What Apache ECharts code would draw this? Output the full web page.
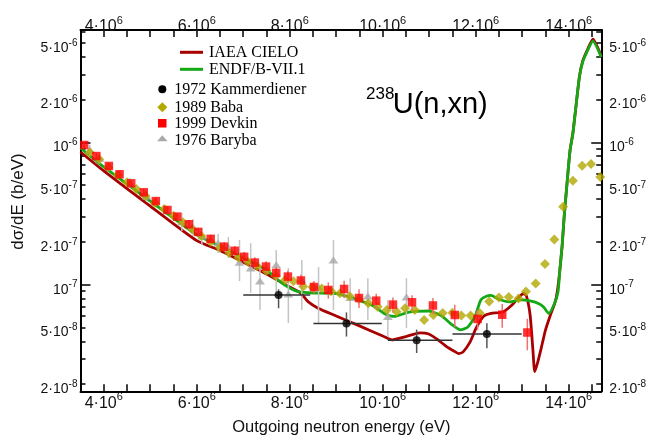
<!DOCTYPE html>
<html><head><meta charset="utf-8">
<script src="https://cdn.jsdelivr.net/npm/echarts@6/dist/echarts.min.js"></script>
<style>html,body{margin:0;padding:0;background:#fff}#c{width:656px;height:436px}</style>
</head><body><div id="c"></div>
<script>
// Energies in MeV (axis labels show them as n·10^6 eV), cross sections in b/eV
const cieloE = [3.5,4.0,5.0,6.0,6.5,7.0,7.5,8.0,8.2,8.31,8.4,8.6,9.0,9.5,10.0,10.2,10.5,10.8,10.99,11.19,11.38,11.53,11.63,11.73,11.88,11.99,12.08,12.18,12.33,12.58,12.78,12.93,13.03,13.09,13.17,13.23,13.27,13.33,13.4,13.5,13.6,13.71,13.76,13.81,13.86,13.9,13.97,14.03,14.09,14.14,14.23,14.3,14.4,14.52,14.7];
const cieloV = [8.56e-7,6.30e-7,3.57e-7,2.04e-7,1.74e-7,1.44e-7,1.19e-7,9.63e-8,8.89e-8,8.19e-8,7.56e-8,6.86e-8,6.03e-8,5.13e-8,4.36e-8,4.09e-8,4.32e-8,4.58e-8,4.50e-8,4.09e-8,3.65e-8,3.42e-8,3.28e-8,3.37e-8,3.96e-8,4.81e-8,5.47e-8,6.03e-8,6.28e-8,6.43e-8,7.20e-8,8.19e-8,8.67e-8,8.33e-8,6.12e-8,3.48e-8,2.45e-8,2.82e-8,3.48e-8,4.80e-8,6.03e-8,7.56e-8,9.18e-8,1.27e-7,1.90e-7,2.94e-7,5.44e-7,8.84e-7,1.16e-6,1.61e-6,2.88e-6,3.73e-6,4.46e-6,5.33e-6,4.05e-6];

const endfE = [3.5,4.0,5.0,6.0,6.5,7.0,7.5,7.79,8.0,8.2,8.5,9.0,9.2,9.5,9.8,10.05,10.25,10.5,10.69,10.99,11.27,11.47,11.67,11.83,11.99,12.11,12.24,12.33,12.48,12.73,12.97,13.17,13.37,13.47,13.57,13.69,13.77,13.81,13.86,13.9,13.97,14.03,14.09,14.14,14.23,14.3,14.4,14.52,14.7];
const endfV = [9.13e-7,6.72e-7,3.87e-7,2.24e-7,1.87e-7,1.54e-7,1.27e-7,1.05e-7,9.48e-8,8.89e-8,8.74e-8,8.67e-8,8.33e-8,7.74e-8,7.08e-8,6.22e-8,5.98e-8,6.33e-8,6.48e-8,6.53e-8,6.03e-8,5.29e-8,4.81e-8,5.04e-8,6.03e-8,7.81e-8,8.33e-8,8.40e-8,7.93e-8,7.56e-8,7.81e-8,7.68e-8,7.32e-8,6.91e-8,6.28e-8,7.32e-8,8.89e-8,1.27e-7,1.90e-7,2.94e-7,5.44e-7,8.84e-7,1.16e-6,1.61e-6,2.88e-6,3.67e-6,4.39e-6,5.16e-6,3.98e-6];

const kammE   = [7.76, 9.22, 10.73, 12.24];
const kammV   = [8.47e-8, 5.34e-8, 4.07e-8, 4.50e-8];
const kammElo = [7.0, 8.51, 10.11, 11.50];
const kammEhi = [8.44, 9.98, 11.50, 12.99];
const kammVlo = [6.83e-8, 4.32e-8, 3.31e-8, 3.57e-8];
const kammVhi = [9.28e-8, 6.38e-8, 4.83e-8, 5.36e-8];

const babaE = [3.7,3.9,4.1,4.3,4.5,4.7,4.9,5.1,5.3,5.5,5.7,5.9,6.1,6.3,6.5,6.7,6.9,7.1,7.3,7.5,7.7,7.9,8.08,8.29,8.49,8.69,8.89,9.08,9.29,9.49,9.69,9.89,10.09,10.3,10.48,10.69,10.89,11.09,11.29,11.5,11.69,11.89,12.09,12.29,12.5,12.71,12.92,13.08,13.29,13.49,13.69,13.88,14.09,14.29,14.48,14.68];
const babaV = [8.5e-7,7.6e-7,6.7e-7,5.9e-7,5.25e-7,4.7e-7,4.2e-7,3.75e-7,3.4e-7,3.05e-7,2.75e-7,2.45e-7,2.2e-7,2.0e-7,1.82e-7,1.67e-7,1.55e-7,1.45e-7,1.35e-7,1.25e-7,1.15e-7,1.08e-7,1.057e-7,9.7e-8,9.6e-8,9.4e-8,9.0e-8,8.7e-8,8.3e-8,7.9e-8,7.4e-8,7.0e-8,6.64e-8,6.45e-8,6.82e-8,6.64e-8,5.65e-8,6.12e-8,6.32e-8,6.36e-8,6.08e-8,6.08e-8,6.29e-8,7.62e-8,8.13e-8,8.19e-8,8.0e-8,8.96e-8,1.02e-7,1.40e-7,2.08e-7,3.53e-7,5.38e-7,6.86e-7,7.05e-7,5.71e-7];

const devkinE = [3.58,3.84,4.11,4.34,4.59,4.86,5.12,5.37,5.58,5.83,6.03,6.30,6.59,6.82,7.02,7.25,7.49,7.71,7.96,8.24,8.52,8.83,9.17,9.49,9.86,10.22,10.63,11.08,11.55,12.04,12.57,13.11];
const devkinV = [9.59e-7,8.02e-7,6.83e-7,5.97e-7,5.16e-7,4.46e-7,3.87e-7,3.35e-7,3.01e-7,2.66e-7,2.35e-7,2.10e-7,1.85e-7,1.73e-7,1.57e-7,1.43e-7,1.34e-7,1.21e-7,1.14e-7,1.07e-7,9.63e-8,9.18e-8,9.33e-8,8.06e-8,7.72e-8,7.24e-8,7.52e-8,7.14e-8,6.12e-8,5.74e-8,6.15e-8,4.61e-8];
const devkinErr = [0.05,0.05,0.05,0.05,0.05,0.06,0.06,0.06,0.06,0.07,0.07,0.07,0.08,0.08,0.08,0.09,0.09,0.10,0.10,0.10,0.10,0.13,0.14,0.15,0.12,0.12,0.12,0.13,0.18,0.16,0.19,0.25];

const barybaE  = [3.70,3.91,4.56,4.92,5.68,5.92,6.11,6.46,6.68,6.92,7.16,7.36,7.71,7.97,8.26,8.62,8.94,9.30,9.68,10.11,10.51];
const barybaV  = [8.84e-7,7.73e-7,5.21e-7,4.20e-7,2.76e-7,2.54e-7,2.20e-7,1.96e-7,1.84e-7,1.44e-7,1.31e-7,1.06e-7,1.38e-7,8.60e-8,1.08e-7,9.63e-8,1.49e-7,8.13e-8,8.33e-8,5.98e-8,8.19e-8];
const barybaLo = [8.03e-7,7.05e-7,4.78e-7,3.81e-7,2.38e-7,2.20e-7,1.90e-7,1.67e-7,1.54e-7,1.06e-7,8.75e-8,6.64e-8,8.89e-8,5.38e-8,6.64e-8,5.38e-8,6.64e-8,5.13e-8,5.65e-8,4.29e-8,4.96e-8];
const barybaHi = [9.59e-7,8.42e-7,5.62e-7,4.63e-7,3.19e-7,2.89e-7,2.50e-7,2.27e-7,2.16e-7,2.06e-7,1.96e-7,1.38e-7,1.75e-7,1.31e-7,1.49e-7,1.33e-7,2.06e-7,1.11e-7,1.11e-7,7.81e-8,1.11e-7];

const xMin = 3.5, xMax = 14.7, yMin = 1.78e-8, yMax = 6.17e-6;
const yLabelTicks = [2e-8,5e-8,1e-7,2e-7,5e-7,1e-6,2e-6,5e-6];
const yDecadeTicks = [1e-7,1e-6];
const yMinorTicks = [2e-8,3e-8,4e-8,5e-8,6e-8,7e-8,8e-8,9e-8,2e-7,3e-7,4e-7,5e-7,6e-7,7e-7,8e-7,9e-7,2e-6,3e-6,4e-6,5e-6,6e-6];

const zip = (a, b) => a.map((v, i) => [v, b[i]]);
const FONT = '"Liberation Sans", Arial, sans-serif';
const SERIF = '"Liberation Serif", "Times New Roman", serif';

function xfmt(v) {
  if (Math.abs(v % 2) > 1e-9) return '';
  return '{b|' + v + '·10}{s|6}';
}
function yfmt(v) {
  const e = Math.floor(Math.log10(v) + 1e-6);
  const m = Math.round(v / Math.pow(10, e));
  return (m === 1 ? '{b|10}' : '{b|' + m + '·10}') + '{s|' + e + '}';
}
const xRich = {
  b: {fontSize: 16, lineHeight: 16, fontFamily: FONT, color: '#111', padding: [8, 0, 0, 0]},
  s: {fontSize: 11, lineHeight: 11, fontFamily: FONT, color: '#111', padding: [0, 0, 4, 0]}
};
const yRich = {
  b: {fontSize: 14, lineHeight: 14, fontFamily: FONT, color: '#111', padding: [10, 0, 0, 0]},
  s: {fontSize: 10, lineHeight: 10, fontFamily: FONT, color: '#111'}
};
const axisLine = {show: true, onZero: false, lineStyle: {color: '#000', width: 2}};

function vErr(color, width) {
  return function (params, api) {
    const p1 = api.coord([api.value(0), api.value(1)]);
    const p2 = api.coord([api.value(0), api.value(2)]);
    return {type: 'line', shape: {x1: p1[0], y1: p1[1], x2: p2[0], y2: p2[1]},
      style: {stroke: color, lineWidth: width}};
  };
}
function hErr(color, width) {
  return function (params, api) {
    const p1 = api.coord([api.value(0), api.value(2)]);
    const p2 = api.coord([api.value(1), api.value(2)]);
    return {type: 'line', shape: {x1: p1[0], y1: p1[1], x2: p2[0], y2: p2[1]},
      style: {stroke: color, lineWidth: width}};
  };
}

const gridRect = {left: 80.5, right: 54.75, top: 30, bottom: 44.7, containLabel: false, outerBoundsMode: 'none'};

const option = {
  animation: false,
  backgroundColor: '#fff',
  grid: [Object.assign({}, gridRect), Object.assign({}, gridRect)],
  xAxis: [
    {gridIndex: 0, type: 'value', position: 'bottom', min: xMin, max: xMax, interval: 0.5,
     axisLine: axisLine, splitLine: {show: false},
     axisTick: {inside: true, length: 7, lineStyle: {color: '#000', width: 1.5}},
     axisLabel: {formatter: xfmt, margin: 0, rich: xRich, showMinLabel: true, showMaxLabel: true}},
    {gridIndex: 0, type: 'value', position: 'top', min: xMin, max: xMax, interval: 0.5,
     axisLine: axisLine, splitLine: {show: false},
     axisTick: {inside: true, length: 7, lineStyle: {color: '#000', width: 1.5}},
     axisLabel: {formatter: xfmt, margin: -1, rich: xRich}},
    {gridIndex: 1, type: 'value', min: xMin, max: xMax, show: false}
  ],
  yAxis: [
    {gridIndex: 0, type: 'log', logBase: 10, position: 'left', min: yMin, max: yMax,
     axisLine: axisLine, splitLine: {show: false},
     axisTick: {inside: true, length: 10, customValues: yDecadeTicks, lineStyle: {color: '#000', width: 1.5}},
     axisLabel: {customValues: yLabelTicks, formatter: yfmt, margin: 3, rich: yRich}},
    {gridIndex: 0, type: 'log', logBase: 10, position: 'right', min: yMin, max: yMax,
     axisLine: axisLine, splitLine: {show: false},
     axisTick: {inside: true, length: 10, customValues: yDecadeTicks, lineStyle: {color: '#000', width: 1.5}},
     axisLabel: {customValues: yLabelTicks, formatter: yfmt, margin: 8, rich: yRich}},
    {gridIndex: 1, type: 'log', logBase: 10, position: 'left', min: yMin, max: yMax,
     axisLine: {show: false}, splitLine: {show: false}, axisLabel: {show: false},
     axisTick: {inside: true, length: 5, customValues: yMinorTicks, lineStyle: {color: '#000', width: 1.5}}},
    {gridIndex: 1, type: 'log', logBase: 10, position: 'right', min: yMin, max: yMax,
     axisLine: {show: false}, splitLine: {show: false}, axisLabel: {show: false},
     axisTick: {inside: true, length: 5, customValues: yMinorTicks, lineStyle: {color: '#000', width: 1.5}}}
  ],
  series: [
    {name: 'IAEA CIELO', type: 'line', xAxisIndex: 0, yAxisIndex: 0, data: zip(cieloE, cieloV),
     showSymbol: false, smooth: 0.2, lineStyle: {color: '#a80000', width: 2.8}, z: 2},
    {name: 'ENDF/B-VII.1', type: 'line', xAxisIndex: 0, yAxisIndex: 0, data: zip(endfE, endfV),
     showSymbol: false, smooth: 0.2, lineStyle: {color: '#14a814', width: 2.8}, z: 3},
    {type: 'custom', xAxisIndex: 0, yAxisIndex: 0, z: 4,
     data: barybaE.map((e, i) => [e, barybaLo[i], barybaHi[i]]), renderItem: vErr('#c4c4c4', 1.5)},
    {name: '1976 Baryba', type: 'scatter', xAxisIndex: 0, yAxisIndex: 0, data: zip(barybaE, barybaV),
     symbol: 'triangle', symbolSize: [10, 7], itemStyle: {color: '#a8a8a8'}, z: 5},
    {name: '1989 Baba', type: 'scatter', xAxisIndex: 0, yAxisIndex: 0, data: zip(babaE, babaV),
     symbol: 'diamond', symbolSize: 10, itemStyle: {color: '#b2a800'}, z: 6},
    {type: 'custom', xAxisIndex: 0, yAxisIndex: 0, z: 7,
     data: kammE.map((e, i) => [kammElo[i], kammEhi[i], kammV[i]]), renderItem: hErr('#333', 1.5)},
    {type: 'custom', xAxisIndex: 0, yAxisIndex: 0, z: 7,
     data: kammE.map((e, i) => [e, kammVlo[i], kammVhi[i]]), renderItem: vErr('#555', 1.5)},
    {name: '1972 Kammerdiener', type: 'scatter', xAxisIndex: 0, yAxisIndex: 0, data: zip(kammE, kammV),
     symbol: 'circle', symbolSize: 8, itemStyle: {color: '#000'}, z: 8},
    {type: 'custom', xAxisIndex: 0, yAxisIndex: 0, z: 9,
     data: devkinE.map((e, i) => [e, devkinV[i] * (1 - devkinErr[i]), devkinV[i] * (1 + devkinErr[i])]),
     renderItem: vErr('#f27070', 1.5)},
    {name: '1999 Devkin', type: 'scatter', xAxisIndex: 0, yAxisIndex: 0, data: zip(devkinE, devkinV),
     symbol: 'rect', symbolSize: 8.5, itemStyle: {color: '#ff0000'}, z: 10}
  ],
  graphic: [
    {type: 'line', shape: {x1: 180, y1: 52.3, x2: 203, y2: 52.3}, style: {stroke: '#a80000', lineWidth: 3}},
    {type: 'line', shape: {x1: 180, y1: 69.3, x2: 203, y2: 69.3}, style: {stroke: '#14a814', lineWidth: 3}},
    {type: 'circle', shape: {cx: 162.3, cy: 89.3, r: 4}, style: {fill: '#000'}},
    {type: 'polygon', shape: {points: [[162.3, 102.3], [167.3, 107.3], [162.3, 112.3], [157.3, 107.3]]}, style: {fill: '#b2a800'}},
    {type: 'rect', shape: {x: 158, y: 119, width: 8.5, height: 8.5}, style: {fill: '#ff0000'}},
    {type: 'polygon', shape: {points: [[162.3, 135.3], [167.5, 141.3], [157.1, 141.3]]}, style: {fill: '#a8a8a8'}},
    {type: 'text', x: 209, y: 52.3, style: {text: 'IAEA CIELO', font: '16px ' + SERIF, fill: '#000', align: 'left', verticalAlign: 'middle'}},
    {type: 'text', x: 209, y: 69.3, style: {text: 'ENDF/B-VII.1', font: '16px ' + SERIF, fill: '#000', align: 'left', verticalAlign: 'middle'}},
    {type: 'text', x: 174.3, y: 89.5, style: {text: '1972 Kammerdiener', font: '16px ' + SERIF, fill: '#000', align: 'left', verticalAlign: 'middle'}},
    {type: 'text', x: 174.3, y: 107.3, style: {text: '1989 Baba', font: '16px ' + SERIF, fill: '#000', align: 'left', verticalAlign: 'middle'}},
    {type: 'text', x: 174.3, y: 124, style: {text: '1999 Devkin', font: '16px ' + SERIF, fill: '#000', align: 'left', verticalAlign: 'middle'}},
    {type: 'text', x: 174.3, y: 140.5, style: {text: '1976 Baryba', font: '16px ' + SERIF, fill: '#000', align: 'left', verticalAlign: 'middle'}},
    {type: 'text', x: 366, y: 94, style: {text: '238', font: '17px ' + FONT, fill: '#000', align: 'left', verticalAlign: 'middle'}},
    {type: 'text', x: 392.7, y: 105, style: {text: 'U(n,xn)', font: '29px ' + FONT, fill: '#000', align: 'left', verticalAlign: 'middle'}},
    {type: 'text', x: 18.5, y: 201.5, rotation: Math.PI / 2, style: {text: 'dσ/dE (b/eV)', font: '17px ' + FONT, fill: '#111', align: 'center', verticalAlign: 'middle'}},
    {type: 'text', x: 341.3, y: 427.3, style: {text: 'Outgoing neutron energy (eV)', font: '16.5px ' + FONT, fill: '#111', align: 'center', verticalAlign: 'middle'}}
  ]
};
const chart = echarts.init(document.getElementById('c'), null, {renderer: 'canvas'});
chart.setOption(option);
</script>
</body></html>
